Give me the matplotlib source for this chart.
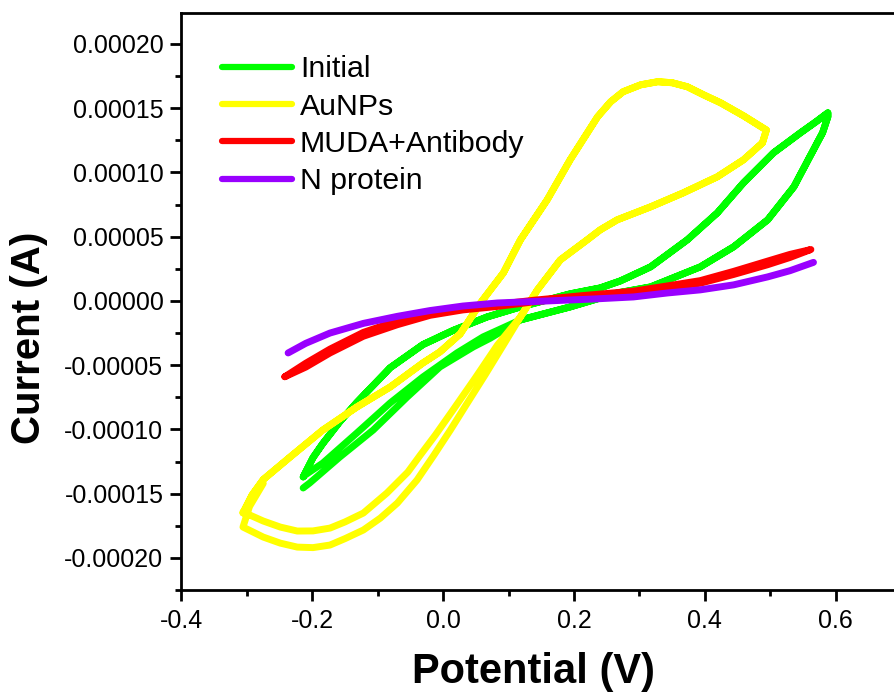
import numpy as np
import matplotlib
matplotlib.use('Agg')
import matplotlib.pyplot as plt
from matplotlib.ticker import MultipleLocator, FuncFormatter

plt.rcParams['font.family'] = ['Liberation Sans', 'DejaVu Sans']

# potentials in V, currents in 1e-5 A
# Initial - two cycles sharing the anodic branch
init_up_v = [-0.214, -0.199, -0.184, -0.158, -0.132, -0.081, -0.031, 0.015, 0.067, 0.118,
             0.194, 0.240, 0.271, 0.317, 0.373, 0.419, 0.459, 0.505, 0.546, 0.570, 0.588]
init_up_i = [-13.7, -12.2, -11.1, -9.4, -7.9, -5.2, -3.4, -2.3, -1.25, -0.47,
             0.55, 1.01, 1.56, 2.65, 4.75, 6.85, 9.19, 11.53, 13.08, 13.95, 14.64]
init_down_v = [0.588, 0.580, 0.566, 0.536, 0.496, 0.444, 0.393, 0.317, 0.266, 0.194, 0.118]
init_down_i = [14.33, 13.1, 11.76, 8.88, 6.31, 4.21, 2.65, 1.09, 0.62, -0.47, -1.48]
init_tail1_v = [0.061, 0.021, -0.031, -0.081, -0.132, -0.184, -0.211]
init_tail1_i = [-2.8, -4.05, -5.92, -7.94, -10.28, -12.62, -13.55]
init_tail2_v = [0.072, 0.046, -0.005, -0.055, -0.107, -0.158, -0.204, -0.214]
init_tail2_i = [-2.9, -3.58, -5.14, -7.48, -10.05, -12.15, -14.17, -14.56]

# AuNPs - two cycles
au_up_v = [-0.306, -0.292, -0.275, -0.234, -0.184, -0.132, -0.081, -0.031, -0.005, 0.026, 0.057,
           0.092, 0.118, 0.159, 0.194, 0.236, 0.256, 0.275, 0.302, 0.328, 0.350,
           0.373, 0.398, 0.424, 0.459, 0.494]
au_up_i = [-16.5, -15.1, -13.9, -12.15, -10.05, -8.26, -6.70, -4.83, -3.97, -2.57, -0.16,
           2.18, 4.75, 7.87, 10.98, 14.33, 15.5, 16.28, 16.82, 17.06, 16.98,
           16.67, 16.04, 15.42, 14.41, 13.3]
au_down_v = [0.494, 0.488, 0.459, 0.419, 0.367, 0.317, 0.266, 0.240, 0.220, 0.179, 0.144, 0.118]
au_down_i = [13.3, 12.3, 10.98, 9.66, 8.41, 7.32, 6.31, 5.53, 4.75, 3.19, 0.86, -1.25]
au_tail1_v = [0.083, 0.049, 0.015, -0.012, -0.035, -0.054, -0.086, -0.122, -0.150, -0.173,
              -0.199, -0.223, -0.249, -0.275, -0.306]
au_tail1_i = [-3.43, -6.0, -8.49, -10.44, -12.0, -13.32, -14.95, -16.51, -17.2, -17.68,
              -17.9, -17.91, -17.6, -17.13, -16.43]
au_tail2_v = [0.092, 0.064, 0.035, 0.011, -0.014, -0.040, -0.070, -0.096, -0.122, -0.150,
              -0.173, -0.199, -0.223, -0.249, -0.275, -0.306]
au_tail2_i = [-3.43, -5.76, -8.10, -10.05, -11.99, -13.94, -15.73, -16.9, -17.83, -18.5,
              -19.0, -19.2, -19.16, -18.85, -18.38, -17.6]
au_end_v = [-0.296, -0.275]
au_end_i = [-16.0, -14.2]

# MUDA+Antibody - narrow loop
muda_v = [-0.242, -0.21, -0.173, -0.122, -0.07, -0.02, 0.03, 0.083, 0.14, 0.21,
          0.291, 0.343, 0.393, 0.444, 0.496, 0.53, 0.562]
muda_i_fwd = [-5.9, -4.85, -3.75, -2.45, -1.55, -0.88, -0.5, -0.27, 0.06, 0.4,
              0.76, 1.17, 1.58, 2.3, 3.1, 3.62, 4.0]
muda_i_rev = [-5.9, -5.15, -4.05, -2.75, -1.85, -1.12, -0.7, -0.43, -0.06, 0.3,
              0.64, 1.01, 1.38, 2.06, 2.82, 3.38, 4.0]

# N protein
nprot_v = [-0.237, -0.21, -0.173, -0.122, -0.07, -0.02, 0.03, 0.083, 0.16, 0.23,
           0.291, 0.343, 0.393, 0.444, 0.496, 0.53, 0.566]
nprot_i = [-4.05, -3.3, -2.5, -1.75, -1.2, -0.75, -0.4, -0.16, 0.0, 0.15,
           0.31, 0.62, 0.86, 1.25, 1.87, 2.35, 3.0]

labels = ['Initial', 'AuNPs', 'MUDA+Antibody', 'N protein']
colors = ['#00ff00', '#ffff00', '#ff0000', '#9900ff']

init_v = init_up_v + init_down_v + init_tail1_v + init_up_v + init_down_v + init_tail2_v
init_i = init_up_i + init_down_i + init_tail1_i + init_up_i + init_down_i + init_tail2_i
au_v = au_up_v + au_down_v + au_tail1_v + au_up_v + au_down_v + au_tail2_v + au_end_v
au_i = au_up_i + au_down_i + au_tail1_i + au_up_i + au_down_i + au_tail2_i + au_end_i
muda_path_v = muda_v + muda_v[::-1]
muda_path_i = muda_i_fwd + muda_i_rev[::-1]

curves = [(init_v, init_i), (au_v, au_i), (muda_path_v, muda_path_i), (nprot_v, nprot_i)]

fig = plt.figure(figsize=(8.94, 6.93), dpi=100)
ax = fig.add_axes([0.203, 0.1486, 0.805, 0.8325])

for (v, i), lab, c in zip(curves, labels, colors):
    ax.plot(v, np.array(i) * 1e-5, color=c, lw=5, label=lab,
            solid_capstyle='round', solid_joinstyle='round')

ax.set_xlim(-0.4, 0.7)
ax.set_ylim(-0.000225, 0.000224)

ax.xaxis.set_major_locator(MultipleLocator(0.2))
ax.xaxis.set_minor_locator(MultipleLocator(0.1))
ax.yaxis.set_major_locator(MultipleLocator(0.00005))
ax.yaxis.set_minor_locator(MultipleLocator(0.000025))
ax.xaxis.set_major_formatter(FuncFormatter(lambda v, p: f"{round(v, 1) + 0.0:.1f}"))
ax.yaxis.set_major_formatter(FuncFormatter(lambda v, p: f"{round(v, 5) + 0.0:.5f}"))

for s in ax.spines.values():
    s.set_linewidth(2)
ax.tick_params(which='both', direction='out', width=2, top=False, right=False)
ax.tick_params(which='major', length=8, labelsize=18)
ax.tick_params(axis='x', which='major', pad=6)
ax.tick_params(axis='y', which='major', pad=5)
ax.tick_params(which='minor', length=4.5)

ax.set_xlabel('Potential (V)', fontsize=30, fontweight='bold')
ax.set_ylabel('Current (A)', fontsize=29, fontweight='bold')
ax.xaxis.set_label_coords(0.489, -0.108)
ax.yaxis.set_label_coords(-0.186, 0.437)

leg = ax.legend(loc='upper left', bbox_to_anchor=(0.0563, 0.927), frameon=False,
                fontsize=21.8, handlelength=2.3, handletextpad=0.27, labelspacing=0.31,
                borderpad=0, borderaxespad=0)
for h in leg.get_lines():
    h.set_linewidth(4.5)

fig.savefig('out.png', dpi=100)
